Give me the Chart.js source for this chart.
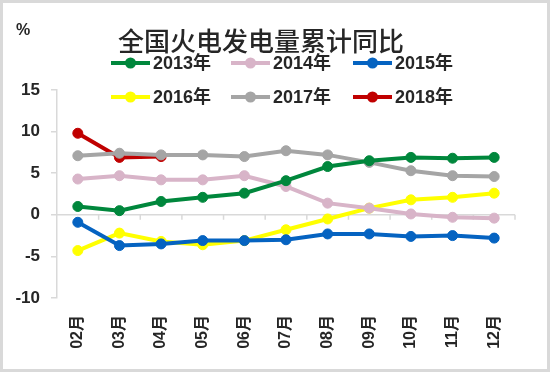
<!DOCTYPE html>
<html>
<head>
<meta charset="utf-8">
<script src="https://cdn.jsdelivr.net/npm/chart.js@4/dist/chart.umd.min.js"></script>
<style>
html,body{margin:0;padding:0;background:#fff;}
#wrap{width:550px;height:372px;position:relative;}
</style>
</head>
<body>
<div id="wrap"><canvas id="c" width="550" height="372"></canvas></div>
<script>
const categories = ['02月','03月','04月','05月','06月','07月','08月','09月','10月','11月','12月'];
const seriesNames = ['2013年','2014年','2015年','2016年','2017年','2018年'];
const seriesColors = ['#00873C','#D8B4C8','#0563C1','#FFFF00','#A5A5A5','#C00000'];
const v2013 = [1.0, 0.5, 1.6, 2.1, 2.6, 4.1, 5.8, 6.5, 6.9, 6.8, 6.9];
const v2014 = [4.3, 4.7, 4.2, 4.2, 4.7, 3.4, 1.4, 0.8, 0.1, -0.3, -0.4];
const v2015 = [-0.9, -3.7, -3.5, -3.1, -3.1, -3.0, -2.3, -2.3, -2.6, -2.5, -2.8];
const v2016 = [-4.3, -2.2, -3.2, -3.6, -3.1, -1.8, -0.5, 0.8, 1.8, 2.1, 2.6];
const v2017 = [7.1, 7.4, 7.2, 7.2, 7.0, 7.7, 7.2, 6.3, 5.3, 4.7, 4.6];
const v2018 = [9.8, 6.9, 7.0];
const yTicks = [-10, -5, 0, 5, 10, 15];
const titleText = '全国火电发电量累计同比';
const unitText = '%';

const allValues = [v2013, v2014, v2015, v2016, v2017, v2018];
const FONT = "'Liberation Sans','Noto Sans CJK SC',sans-serif";
const TXT = '#262626';

const datasets = seriesNames.map((n, i) => ({
  label: n,
  data: allValues[i],
  borderColor: seriesColors[i],
  backgroundColor: seriesColors[i],
  pointBackgroundColor: seriesColors[i],
  pointBorderColor: seriesColors[i],
  borderWidth: 4,
  pointRadius: 5,
  pointBorderWidth: 1,
  tension: 0,
  fill: false
}));

const decor = {
  id: 'decor',
  beforeDraw(chart) {
    const ctx = chart.ctx;
    ctx.save();
    ctx.fillStyle = '#fff';
    ctx.fillRect(0, 0, chart.width, chart.height);
    ctx.restore();
  },
  beforeDatasetsDraw(chart) {
    const ctx = chart.ctx;
    const xs = chart.scales.x, ys = chart.scales.y;
    const y0 = ys.getPixelForValue(0);
    ctx.save();
    ctx.strokeStyle = '#D9D9D9';
    ctx.lineWidth = 1.5;
    ctx.beginPath();
    ctx.moveTo(xs.left, y0);
    ctx.lineTo(xs.right, y0);
    const n = chart.data.labels.length;
    const step = (xs.getPixelForTick(n - 1) - xs.getPixelForTick(0)) / (n - 1);
    for (let i = 1; i <= n; i++) {
      const x = xs.getPixelForTick(i - 1) + step / 2;
      ctx.moveTo(x, y0);
      ctx.lineTo(x, y0 + 5);
    }
    ctx.stroke();
    ctx.restore();
  },
  afterDraw(chart) {
    const ctx = chart.ctx;
    ctx.save();
    ctx.strokeStyle = '#D9D9D9';
    ctx.lineWidth = 3;
    ctx.strokeRect(1.5, 1.5, chart.width - 3, chart.height - 3);
    ctx.fillStyle = TXT;
    ctx.textBaseline = 'middle';
    ctx.textAlign = 'center';
    ctx.font = "500 26px 'Noto Sans CJK SC',sans-serif";
    ctx.fillText(titleText, 261, 41);
    ctx.font = "bold 16px " + FONT;
    ctx.fillText(unitText, 23, 31);
    const colX = [111, 231, 353];
    const rowY = [63, 97];
    ctx.font = "bold 18px " + FONT;
    ctx.textAlign = 'left';
    chart.data.datasets.forEach((ds, i) => {
      const x = colX[i % 3], y = rowY[Math.floor(i / 3)];
      ctx.strokeStyle = ds.borderColor;
      ctx.lineWidth = 4;
      ctx.beginPath();
      ctx.moveTo(x, y);
      ctx.lineTo(x + 39, y);
      ctx.stroke();
      ctx.fillStyle = ds.borderColor;
      ctx.beginPath();
      ctx.arc(x + 19.5, y, 5.5, 0, Math.PI * 2);
      ctx.fill();
      ctx.fillStyle = TXT;
      ctx.fillText(ds.label, x + 42, y + 1);
    });
    ctx.restore();
  }
};

new Chart(document.getElementById('c'), {
  type: 'line',
  data: { labels: categories, datasets },
  options: {
    responsive: false,
    animation: false,
    layout: { padding: { top: 90, right: 35, bottom: 0, left: 0 } },
    plugins: { legend: { display: false }, title: { display: false }, tooltip: { enabled: false } },
    scales: {
      x: {
        type: 'category',
        offset: true,
        grid: { display: false, drawTicks: false },
        border: { display: false },
        ticks: {
          minRotation: 90, maxRotation: 90, padding: 17, autoSkip: false,
          color: TXT, font: { family: FONT, size: 16, weight: 'bold' }
        },
        afterFit(s) { s.height = 74; }
      },
      y: {
        min: -10, max: 15,
        afterBuildTicks(s) { s.ticks = yTicks.map(v => ({ value: v })); },
        grid: {
          drawOnChartArea: false,
          drawTicks: true,
          tickLength: 6,
          tickColor: '#D9D9D9',
          lineWidth: 1.5
        },
        border: { display: true, color: '#D9D9D9', width: 1.5 },
        ticks: {
          padding: 11, color: TXT,
          font: { family: FONT, size: 17, weight: 'bold' }
        },
        afterFit(s) { s.width = 57; }
      }
    }
  },
  plugins: [decor]
});
</script>
</body>
</html>
